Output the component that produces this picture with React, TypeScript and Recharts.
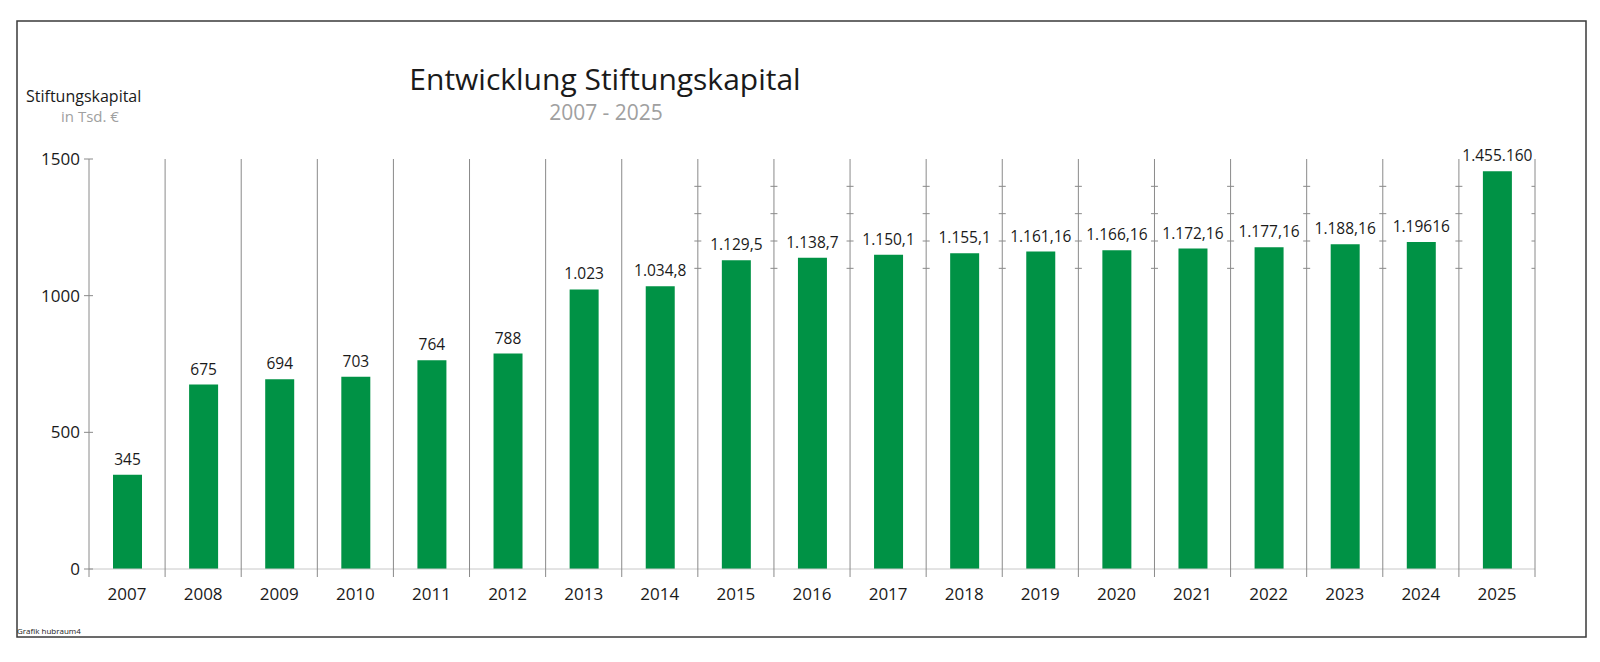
import { Bar, ComposedChart, LabelList, Scatter, XAxis, YAxis } from 'recharts';

const FONT = '"Open Sans", "Noto Sans", sans-serif';
const GREEN = '#009245';
const LINE = '#8a8a8a';
const BASE = '#c8c8c8';
const TEXT = '#1a1a1a';
const GREY = '#a0a0a0';

const years = [
  '2007', '2008', '2009', '2010', '2011', '2012', '2013', '2014', '2015', '2016',
  '2017', '2018', '2019', '2020', '2021', '2022', '2023', '2024', '2025',
];
const capital = [
  345, 675, 694, 703, 764, 788, 1023, 1034.8, 1129.5, 1138.7,
  1150.1, 1155.1, 1161.16, 1166.16, 1172.16, 1177.16, 1188.16, 1196.16, 1455.16,
];
const valueLabels = [
  '345', '675', '694', '703', '764', '788', '1.023', '1.034,8', '1.129,5', '1.138,7',
  '1.150,1', '1.155,1', '1.161,16', '1.166,16', '1.172,16', '1.177,16', '1.188,16', '1.19616', '1.455.160',
];
const yTicks = [0, 500, 1000, 1500];
// category boundaries (vertical separators), 0 = left axis, 19 = right axis
const boundaries = [0, 1, 2, 3, 4, 5, 6, 7, 8, 9, 10, 11, 12, 13, 14, 15, 16, 17, 18, 19];
const minorBoundaries = [8, 9, 10, 11, 12, 13, 14, 15, 16, 17, 18, 19];
const minorLevels = [1100, 1200, 1300, 1400];

const chartData = years.map((year, i) => ({ year, value: capital[i], label: valueLabels[i] }));
const minorTicks = minorBoundaries.flatMap(gx => minorLevels.map(gy => ({ gx, gy })));

const LeftTick = (props: any) => {
  const { x, y, payload } = props;
  return (
    <g>
      <line x1={x - 5} x2={x + 4} y1={y} y2={y} stroke={LINE} />
      <text x={x - 9} y={y} dy="0.36em" textAnchor="end" fontSize={17} fontFamily={FONT} fill={TEXT}>
        {payload.value}
      </text>
    </g>
  );
};

const RightTick = (props: any) => {
  const { x, y, payload } = props;
  return (
    <g>
      <line x1={x - 10} x2={x + 3} y1={y} y2={y} stroke={LINE} />
      <text x={x + 6} y={y} dy="0.36em" textAnchor="start" fontSize={17} fontFamily={FONT} fill={TEXT}>
        {payload.value}
      </text>
    </g>
  );
};

// separator line through the whole plot, continuing 8px below the base line
const SeparatorTick = (props: any) => {
  const { x, y } = props;
  return <line x1={x} x2={x} y1={y - 410} y2={y + 8} stroke={LINE} />;
};

const MinorTick = (props: any) => {
  const { cx, cy } = props;
  return <line x1={cx - 3.5} x2={cx + 3.5} y1={cy} y2={cy} stroke={LINE} />;
};

export default function App() {
  return (
    <div style={{ position: 'fixed', left: 0, top: 0, width: 1600, height: 662, background: '#fff' }}>
      <ComposedChart
        width={1600}
        height={662}
        data={chartData}
        margin={{ top: 159, right: 5, bottom: 55, left: 29 }}
      >
        <XAxis
          dataKey="gx"
          type="number"
          domain={[0, 19]}
          ticks={boundaries}
          interval={0}
          allowDataOverflow
          height={8}
          tickSize={0}
          tickMargin={0}
          tickLine={false}
          tick={<SeparatorTick />}
          axisLine={{ stroke: BASE }}
        />
        <XAxis
          xAxisId="cat"
          dataKey="year"
          height={30}
          axisLine={false}
          tickLine={false}
          tickSize={0}
          tickMargin={11}
          tick={{ fontSize: 17, fontFamily: FONT, fill: TEXT }}
        />
        <YAxis
          domain={[0, 1500]}
          ticks={yTicks}
          width={60}
          axisLine={false}
          tickLine={false}
          tickSize={0}
          tickMargin={0}
          tick={<LeftTick />}
        />
        <YAxis
          yAxisId="right"
          orientation="right"
          domain={[0, 1500]}
          ticks={yTicks}
          width={60}
          axisLine={false}
          tickLine={false}
          tickSize={0}
          tickMargin={0}
          tick={<RightTick />}
        />
        <Bar xAxisId="cat" dataKey="value" fill={GREEN} barSize={29} isAnimationActive={false}>
          <LabelList dataKey="label" position="top" offset={10} fontSize={15.5} fontFamily={FONT} fill={TEXT} />
        </Bar>
        <Scatter data={minorTicks} dataKey="gy" shape={<MinorTick />} isAnimationActive={false} />
      </ComposedChart>
      <svg
        width={1600}
        height={662}
        style={{ position: 'absolute', left: 0, top: 0, pointerEvents: 'none' }}
        fontFamily={FONT}
      >
        <rect x={17} y={21} width={1569} height={616} fill="none" stroke="#3a3a3a" strokeWidth={1.5} />
        <text x={605} y={90} textAnchor="middle" fontSize={30} fill={TEXT}>
          Entwicklung Stiftungskapital
        </text>
        <text x={606} y={120} textAnchor="middle" fontSize={21} fill={GREY}>
          2007 - 2025
        </text>
        <text x={26} y={102} fontSize={16} fill={TEXT}>
          Stiftungskapital
        </text>
        <text x={61} y={122} fontSize={15} fill={GREY}>
          in Tsd. €
        </text>
        <text x={17} y={634} fontSize={8} fill={TEXT}>
          Grafik hubraum4
        </text>
      </svg>
    </div>
  );
}
